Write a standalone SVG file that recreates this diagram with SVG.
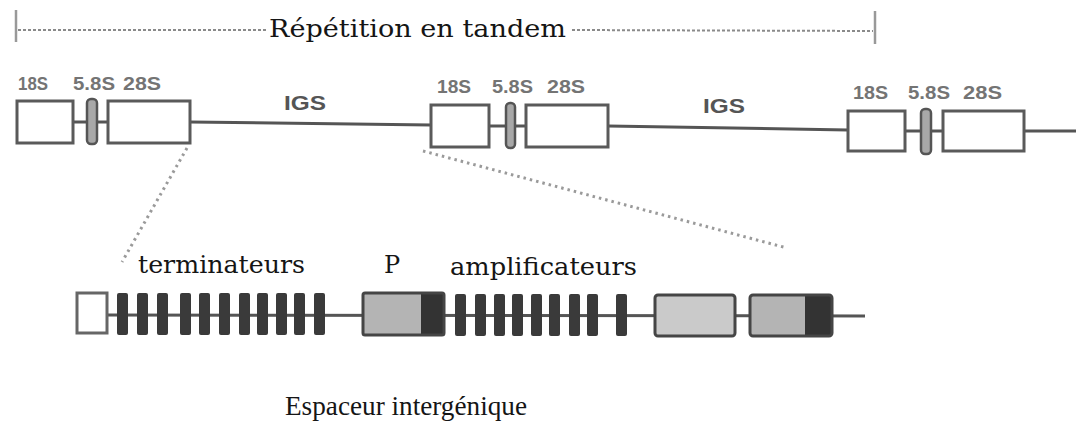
<svg xmlns="http://www.w3.org/2000/svg" width="1076" height="423" viewBox="0 0 1076 423">
  <style>
    .gene { fill: #ffffff; stroke: #5a5a5a; stroke-width: 3; }
    .small { fill: #a8a8a8; stroke: #555555; stroke-width: 2.5; }
    .bb { stroke: #555555; stroke-width: 3; fill: none; }
    .dots { stroke: #9a9a9a; stroke-width: 3; stroke-dasharray: 2.5 4; fill: none; }
    .bracket { stroke: #8a8a8a; stroke-width: 2; stroke-dasharray: 3 2; fill: none; }
    .tick { stroke: #999999; stroke-width: 2.5; }
    .lbl { font-family: "Liberation Sans", Arial, sans-serif; font-weight: bold; font-size: 18px; fill: #747474; }
    .igs { font-family: "Liberation Sans", Arial, sans-serif; font-weight: bold; font-size: 21px; fill: #555555; }
    .serif { font-family: "DejaVu Serif", serif; font-size: 24px; fill: #151515; }
    .bar { fill: #3a3a3a; }
    .light { fill: #b4b4b4; }
    .pale { fill: #cacaca; }
    .dark { fill: #333333; }
    .frame { fill: none; stroke: #454545; stroke-width: 3; }
  </style>

  <!-- Span of one repeat unit -->
  <g id="repeat-bracket">
    <line class="tick" x1="16" y1="10" x2="16" y2="42"/>
    <line class="tick" x1="875" y1="11" x2="875" y2="44"/>
    <line class="bracket" x1="18" y1="30" x2="266" y2="30"/>
    <line class="bracket" x1="572" y1="30" x2="873" y2="31"/>
    <text class="serif" x="269" y="37" font-size="25" textLength="297" lengthAdjust="spacingAndGlyphs">Répétition en tandem</text>
  </g>

  <!-- Backbone, spacers and zoom guides -->
  <g id="connectors">
    <line class="bb" x1="73" y1="122" x2="87" y2="122"/>
    <line class="bb" x1="97" y1="122" x2="108" y2="122"/>
    <line class="bb" x1="190" y1="122" x2="431" y2="125"/>
    <line class="bb" x1="489" y1="126" x2="506" y2="126"/>
    <line class="bb" x1="515" y1="126" x2="526" y2="126"/>
    <line class="bb" x1="608" y1="126" x2="848" y2="130"/>
    <line class="bb" x1="905" y1="131" x2="921" y2="131"/>
    <line class="bb" x1="931" y1="131" x2="943" y2="131"/>
    <line class="bb" x1="1024" y1="131" x2="1076" y2="131"/>
    <line class="dots" x1="187" y1="148" x2="122" y2="262"/>
    <line class="dots" x1="423" y1="151" x2="787" y2="248"/>
    <line class="bb" x1="107" y1="315" x2="865" y2="316"/>
  </g>

  <!-- rDNA unit 1 -->
  <g id="unit1">
    <rect class="gene" x="17" y="101" width="56" height="42"/>
    <rect class="small" x="87" y="99" width="10" height="45" rx="4"/>
    <rect class="gene" x="108" y="101" width="82" height="42"/>
    <text class="lbl" x="18" y="90" textLength="30" lengthAdjust="spacingAndGlyphs">18S</text>
    <text class="lbl" x="73" y="90" textLength="42" lengthAdjust="spacingAndGlyphs">5.8S</text>
    <text class="lbl" x="123" y="90" textLength="38" lengthAdjust="spacingAndGlyphs">28S</text>
  </g>

  <g id="igs1">
    <text class="igs" x="284" y="110" textLength="42" lengthAdjust="spacingAndGlyphs">IGS</text>
  </g>

  <!-- rDNA unit 2 -->
  <g id="unit2">
    <rect class="gene" x="431" y="105" width="58" height="42"/>
    <rect class="small" x="506" y="103" width="9" height="45" rx="4"/>
    <rect class="gene" x="526" y="105" width="82" height="42"/>
    <text class="lbl" x="437" y="93" textLength="34" lengthAdjust="spacingAndGlyphs">18S</text>
    <text class="lbl" x="492" y="93" textLength="41" lengthAdjust="spacingAndGlyphs">5.8S</text>
    <text class="lbl" x="547" y="93" textLength="38" lengthAdjust="spacingAndGlyphs">28S</text>
  </g>

  <g id="igs2">
    <text class="igs" x="703" y="113" textLength="42" lengthAdjust="spacingAndGlyphs">IGS</text>
  </g>

  <!-- rDNA unit 3 -->
  <g id="unit3">
    <rect class="gene" x="848" y="111" width="57" height="40"/>
    <rect class="small" x="921" y="109" width="10" height="45" rx="4"/>
    <rect class="gene" x="943" y="111" width="81" height="40"/>
    <text class="lbl" x="853" y="99" textLength="35" lengthAdjust="spacingAndGlyphs">18S</text>
    <text class="lbl" x="908" y="99" textLength="42" lengthAdjust="spacingAndGlyphs">5.8S</text>
    <text class="lbl" x="963" y="99" textLength="39" lengthAdjust="spacingAndGlyphs">28S</text>
  </g>

  <!-- Intergenic spacer detail -->
  <g id="spacer-start">
    <rect x="77" y="293" width="30" height="40" fill="#ffffff" stroke="#666666" stroke-width="3"/>
  </g>

  <g id="terminators">
    <rect class="bar" x="117" y="293" width="11" height="42" rx="2"/>
    <rect class="bar" x="137" y="293" width="11" height="42" rx="2"/>
    <rect class="bar" x="157" y="293" width="11" height="42" rx="2"/>
    <rect class="bar" x="180" y="293" width="11" height="42" rx="2"/>
    <rect class="bar" x="199" y="293" width="11" height="42" rx="2"/>
    <rect class="bar" x="219" y="293" width="11" height="42" rx="2"/>
    <rect class="bar" x="239" y="293" width="11" height="42" rx="2"/>
    <rect class="bar" x="257" y="293" width="11" height="42" rx="2"/>
    <rect class="bar" x="276" y="293" width="11" height="42" rx="2"/>
    <rect class="bar" x="294" y="293" width="11" height="42" rx="2"/>
    <rect class="bar" x="314" y="293" width="11" height="42" rx="2"/>
    <text class="serif" x="138" y="273" textLength="167" lengthAdjust="spacingAndGlyphs">terminateurs</text>
  </g>

  <g id="promoter">
    <rect class="light" x="363" y="293" width="58" height="42"/>
    <rect class="dark" x="421" y="293" width="23" height="42"/>
    <rect class="frame" x="363" y="293" width="81" height="42" rx="2"/>
    <text class="serif" x="384" y="273" font-size="26">P</text>
  </g>

  <g id="enhancers">
    <rect class="bar" x="455" y="294" width="11" height="42" rx="2"/>
    <rect class="bar" x="475" y="294" width="11" height="42" rx="2"/>
    <rect class="bar" x="494" y="294" width="11" height="42" rx="2"/>
    <rect class="bar" x="512" y="294" width="11" height="42" rx="2"/>
    <rect class="bar" x="531" y="294" width="11" height="42" rx="2"/>
    <rect class="bar" x="549" y="294" width="11" height="42" rx="2"/>
    <rect class="bar" x="569" y="294" width="11" height="42" rx="2"/>
    <rect class="bar" x="587" y="294" width="11" height="42" rx="2"/>
    <rect class="bar" x="616" y="294" width="11" height="42" rx="2"/>
    <text class="serif" x="450" y="275" textLength="187" lengthAdjust="spacingAndGlyphs">amplificateurs</text>
  </g>

  <g id="spacer-block">
    <rect class="pale" x="655" y="295" width="80" height="41"/>
    <rect class="frame" x="655" y="295" width="80" height="41" rx="3"/>
  </g>

  <g id="spacer-promoter">
    <rect class="light" x="750" y="295" width="55" height="41"/>
    <rect class="dark" x="805" y="295" width="27" height="41"/>
    <rect class="frame" x="750" y="295" width="82" height="41" rx="3"/>
  </g>

  <g id="caption">
    <text x="285" y="415" font-family="'Liberation Serif', 'Times New Roman', serif" font-size="28" fill="#151515" textLength="242" lengthAdjust="spacingAndGlyphs">Espaceur intergénique</text>
  </g>
</svg>
